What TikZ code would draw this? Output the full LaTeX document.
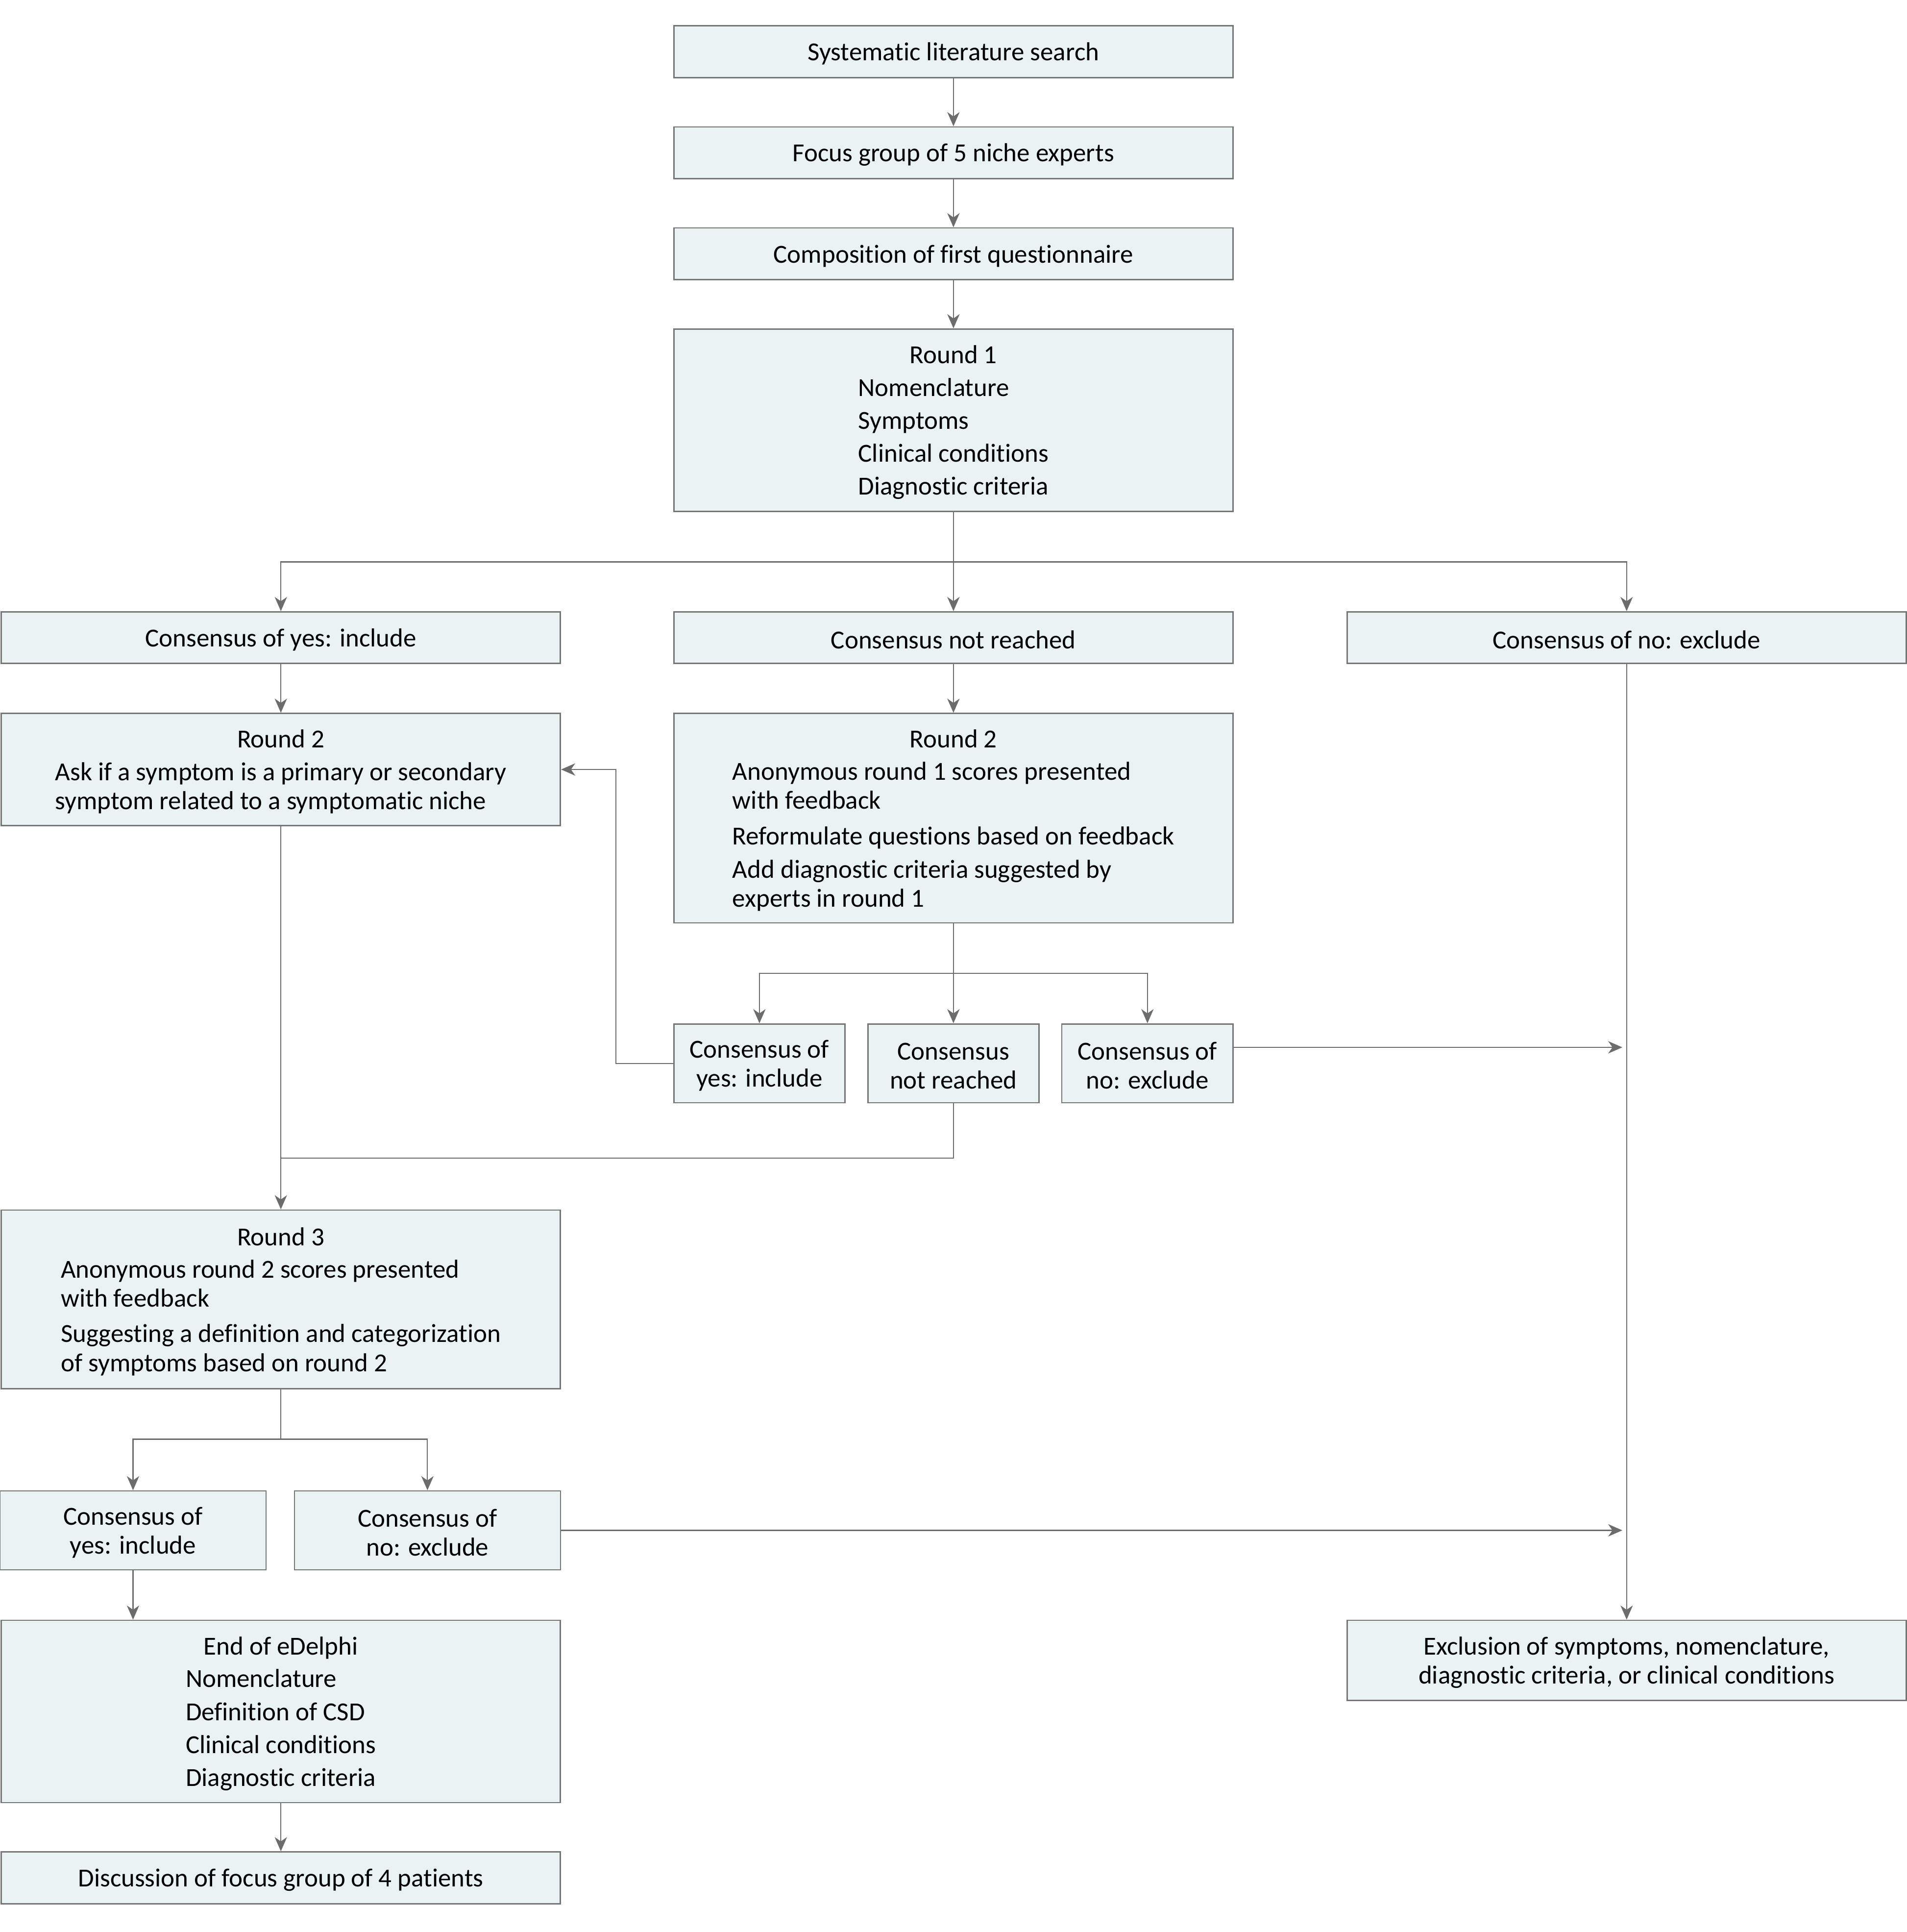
\documentclass[tikz,border=0pt]{standalone}
\usepackage{fontspec}
\setmainfont{Carlito}[Ligatures=NoCommon]
\usepackage{xcolor}
\usetikzlibrary{arrows.meta}
\definecolor{boxfill}{RGB}{233,243,244}
\definecolor{boxline}{RGB}{118,118,118}
\definecolor{arrowline}{RGB}{108,108,108}
\newcommand{\firstrow}[1]{\rule{0pt}{#1}}
\tikzset{
  every picture/.style={line join=miter, >={Stealth[length=2.3mm,width=2mm,inset=0.7mm]}},
  box/.style={draw=boxline, fill=boxfill, line width=0.6pt, inner sep=0pt, align=center,
    font=\fontsize{12}{13.4}\selectfont, execute at begin node={\firstrow{10.2pt}}},
  wide/.style={box, minimum width=9.08cm},
  half/.style={box, minimum width=4.32cm, minimum height=1.28cm},
  small/.style={box, minimum width=2.78cm, minimum height=1.28cm},
  link/.style={draw=arrowline, line width=0.5pt},
}

\begin{document}
\begin{tikzpicture}[x=0.02cm, y=-0.02cm]
\useasboundingbox (0,0) rectangle (1548,1568);
% main column
\node[wide, minimum height=0.84cm] (search) at (774,42) {Systematic literature search};
\node[wide, minimum height=0.84cm] (focus) at (774,124) {Focus group of 5 niche experts};
\node[wide, minimum height=0.84cm] (quest) at (774,206) {Composition of first questionnaire};
\node[wide, minimum height=2.96cm] (round1) at (774,341) {\firstrow{12.4pt}Round 1\\[1.6pt]
  \begin{tabular}[t]{@{}l@{}}Nomenclature\\[1.8pt] Symptoms\\[1.8pt] Clinical conditions\\[1.8pt] Diagnostic criteria\end{tabular}};
% first outcome
\node[wide, minimum height=0.84cm] (yes1) at (228,517.5) {Consensus of yes: include};
\node[wide, minimum height=0.84cm] (notr1) at (774,517.5) {Consensus not reached};
\node[wide, minimum height=0.84cm] (no1) at (1320.5,517.5) {Consensus of no: exclude};
% round 2
\node[wide, minimum height=1.82cm] (r2a) at (228,624.5) {\firstrow{12.4pt}Round 2\\[1.6pt]
  \begin{tabular}[t]{@{}l@{}}Ask if a symptom is a primary or secondary\\ symptom related to a symptomatic niche\end{tabular}};
\node[wide, minimum height=3.4cm] (r2b) at (774,664) {\firstrow{12.4pt}Round 2\\[1.6pt]
  \begin{tabular}[t]{@{}l@{}}Anonymous round 1 scores presented\\ with feedback\\[3pt]
  Reformulate questions based on feedback\\[2pt] Add diagnostic criteria suggested by\\ experts in round 1\end{tabular}};
\node[small] (yes2) at (616.5,863) {\firstrow{10.2pt}Consensus of\\yes: include};
\node[small] (notr2) at (774,863) {\firstrow{10.2pt}Consensus\\not reached};
\node[small] (no2) at (931.5,863) {\firstrow{10.2pt}Consensus of\\no: exclude};
% round 3
\node[wide, minimum height=2.9cm] (r3) at (228,1054.5) {\firstrow{12.4pt}Round 3\\[1.6pt]
  \begin{tabular}[t]{@{}l@{}}Anonymous round 2 scores presented\\ with feedback\\[3pt]
  Suggesting a definition and categorization\\ of symptoms based on round 2\end{tabular}};
\node[half] (yes3) at (108,1242) {\firstrow{10.2pt}Consensus of\\yes: include};
\node[half] (no3) at (347,1242) {\firstrow{10.2pt}Consensus of\\no: exclude};
\node[wide, minimum height=2.96cm] (endd) at (228,1389) {\firstrow{12.4pt}End of eDelphi\\[1.6pt]
  \begin{tabular}[t]{@{}l@{}}Nomenclature\\[1.8pt] Definition of CSD\\[1.8pt] Clinical conditions\\[1.8pt] Diagnostic criteria\end{tabular}};
\node[wide, minimum height=0.84cm] (disc) at (228,1524) {Discussion of focus group of 4 patients};
\node[wide, minimum height=1.3cm] (excl) at (1320.5,1347.5) {\firstrow{10.2pt}Exclusion of symptoms, nomenclature,\\diagnostic criteria, or clinical conditions};

% branch points
\coordinate (split1) at (774,456);
\coordinate (split2) at (774,790);
\coordinate (split3) at (228,1168);
\coordinate (back) at (500,624.5);
\coordinate (merge) at (228,940);
\coordinate (join2) at (1317,850);
\coordinate (join3) at (1317,1242);

\draw[link,->] (search) -- (focus);
\draw[link,->] (focus) -- (quest);
\draw[link,->] (quest) -- (round1);
\draw[link,->] (round1) -- (notr1);
\draw[link,->] (split1) -| (yes1);
\draw[link,->] (split1) -| (no1);
\draw[link,->] (yes1) -- (r2a);
\draw[link,->] (notr1) -- (r2b);
\draw[link,->] (no1) -- (excl);
\draw[link,->] (r2b) -- (notr2);
\draw[link,->] (split2) -| (yes2);
\draw[link,->] (split2) -| (no2);
\draw[link,->] (yes2.west) -| (back) -- (r2a.east);
\draw[link,->] (no2.east |- join2) -- (join2);
\draw[link] (notr2) |- (merge);
\draw[link,->] (r2a) -- (r3);
\draw[link] (r3) -- (split3);
\draw[link,->] (split3) -| (yes3);
\draw[link,->] (split3) -| (no3);
\draw[link,->] (no3) -- (join3);
\draw[link,->] (yes3.south) -- (yes3.south |- endd.north);
\draw[link,->] (endd) -- (disc);
\end{tikzpicture}
\end{document}
